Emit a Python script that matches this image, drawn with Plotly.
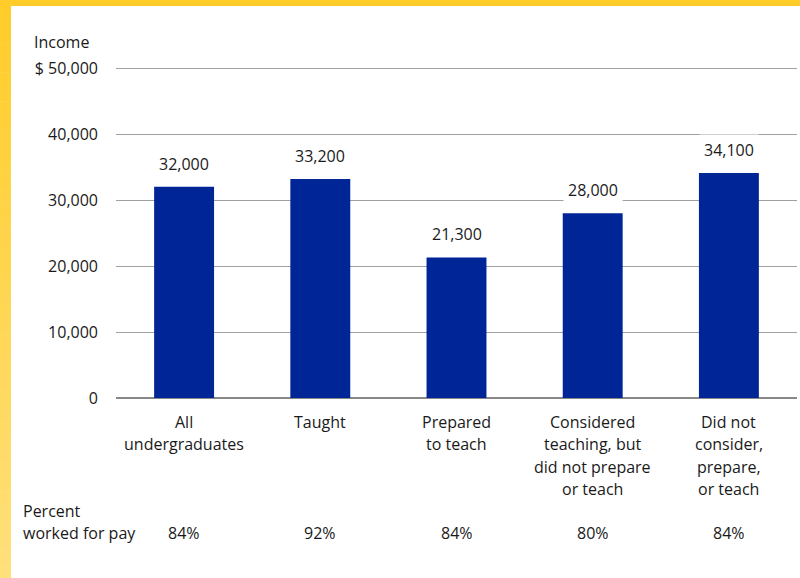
import plotly.graph_objects as go

categories = ["All<br>undergraduates", "Taught", "Prepared<br>to teach",
              "Considered<br>teaching, but<br>did not prepare<br>or teach",
              "Did not<br>consider,<br>prepare,<br>or teach"]
income = [32000, 33200, 21300, 28000, 34100]
value_labels = ["32,000", "33,200", "21,300", "28,000", "34,100"]
pct_worked = ["84%", "92%", "84%", "80%", "84%"]
tick_vals = [0, 10000, 20000, 30000, 40000, 50000]
tick_text = ["0", "10,000", "20,000", "30,000", "40,000", "$ 50,000"]

FONT = "Open Sans"
FS = 16
TXT = "#1a1a1a"
BAR = "#002596"
W, H = 800, 578
ML, MR, MT, MB = 116, 3, 65, 180
YTOP = 50000 * (1 + 3 / 330)

x_idx = list(range(len(categories)))

fig = go.Figure()
fig.add_trace(go.Bar(x=x_idx, y=income, marker_color=BAR, marker_line_width=0,
                     width=0.44, hoverinfo="skip"))

# value labels with white background covering gridlines
for i, (v, t) in enumerate(zip(income, value_labels)):
    fig.add_annotation(x=i, y=v, text=t, showarrow=False, yanchor="bottom",
                       yshift=7, bgcolor="white", borderpad=4,
                       font=dict(family=FONT, size=FS, color=TXT))

# category labels, one line at a time for line spacing control
LINE = 22.3
for i, c in enumerate(categories):
    for j, line in enumerate(c.split("<br>")):
        fig.add_annotation(x=i, y=0, text=line, showarrow=False, yanchor="middle",
                           yshift=-(24 + j * LINE), align="center",
                           font=dict(family=FONT, size=FS, color=TXT))

pw = W - ML - MR
ph = H - MT - MB
def px_to_paper_x(px):
    return (px - ML) / pw
def px_to_paper_y(py):
    return 1 - (py - MT) / ph

# percent worked row
pw_y = px_to_paper_y(533)
for i, p in enumerate(pct_worked):
    fig.add_annotation(x=i, y=pw_y, yref="paper", text=p, showarrow=False,
                       yanchor="middle",
                       font=dict(family=FONT, size=FS, color=TXT))
for j, line in enumerate(["Percent", "worked for pay"]):
    fig.add_annotation(x=px_to_paper_x(21), xref="paper", xanchor="left",
                       y=px_to_paper_y(511 + j * LINE), yref="paper", yanchor="middle",
                       text=line, showarrow=False,
                       font=dict(family=FONT, size=FS, color=TXT))

# Income axis title
fig.add_annotation(x=px_to_paper_x(32), xref="paper", xanchor="left",
                   y=px_to_paper_y(42), yref="paper", yanchor="middle",
                   text="Income", showarrow=False,
                   font=dict(family=FONT, size=FS, color=TXT))

# yellow frame (left and top) with gradient approximated by strips
top_c = (255, 204, 41)
bot_c = (255, 224, 122)
n = 40
for k in range(n):
    y0 = k * H / n
    y1 = (k + 1) * H / n
    f = (k + 0.5) / n
    c = tuple(int(round(top_c[j] + (bot_c[j] - top_c[j]) * f)) for j in range(3))
    fig.add_shape(type="rect", xref="paper", yref="paper",
                  x0=px_to_paper_x(0), x1=px_to_paper_x(11),
                  y0=px_to_paper_y(y1 + 0.5), y1=px_to_paper_y(y0),
                  fillcolor="rgb(%d,%d,%d)" % c, line_width=0, layer="above")
fig.add_shape(type="rect", xref="paper", yref="paper",
              x0=px_to_paper_x(0), x1=px_to_paper_x(W),
              y0=px_to_paper_y(6), y1=px_to_paper_y(0),
              fillcolor="rgb(255,204,41)", line_width=0, layer="above")

fig.update_layout(
    width=W, height=H,
    margin=dict(l=ML, r=MR, t=MT, b=MB),
    paper_bgcolor="white", plot_bgcolor="white",
    showlegend=False, bargap=0.56,
    font=dict(family=FONT, size=FS, color=TXT),
)
fig.update_xaxes(range=[-0.5, 4.5], showticklabels=False, showgrid=False,
                 zeroline=False, showline=False)
fig.update_yaxes(range=[0, YTOP], tickvals=tick_vals, ticktext=tick_text,
                 showgrid=True, gridcolor="#a0a0a0", gridwidth=1,
                 zeroline=True, zerolinecolor="#888888", zerolinewidth=2,
                 showline=False, ticks="", ticklabelstandoff=17,
                 tickfont=dict(family=FONT, size=FS, color=TXT))

fig.write_html("out.html", config={"displayModeBar": False},
               post_script="document.body.style.margin='0';document.body.style.padding='0';")
